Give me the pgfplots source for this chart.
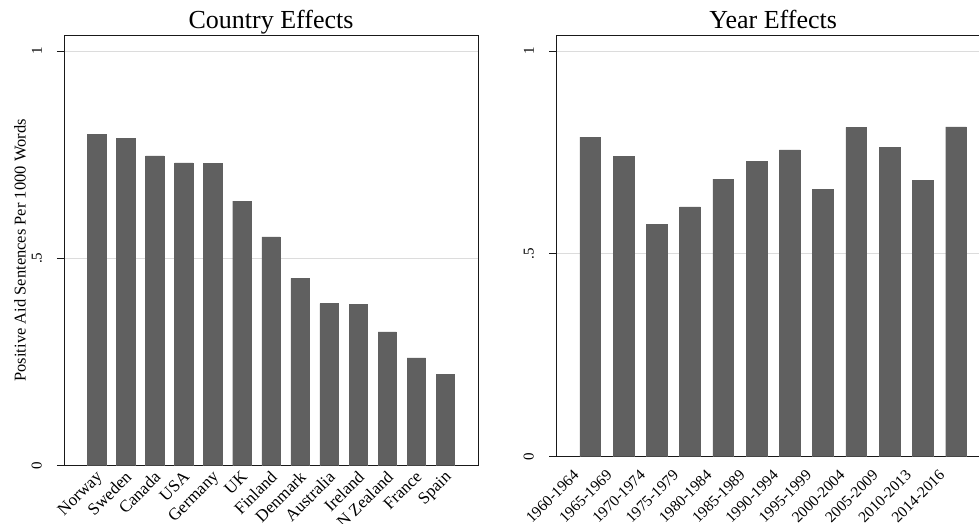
\documentclass[border=0pt]{standalone}
\usepackage{pgfplots}
\pgfplotsset{compat=1.18}
\usepackage{fontspec}
\setmainfont{Liberation Serif}
\definecolor{barc}{HTML}{606060}
\definecolor{gridc}{HTML}{DCDCDC}
\pgfplotsset{
  stata/.style={
    scale only axis,
    ymin=0,
    ytick={0,0.5,1},
    yticklabels={0,.5,1},
    ymajorgrids,
    grid style={gridc, line width=0.8pt},
    axis line style={line width=0.9pt, black!90},
    tick align=outside,
    major tick length=7pt,
    ytick style={line width=0.9pt, black!90},
    xtick style={draw=none},
    xtick pos=bottom,
    ytick pos=left,
    /pgf/number format/assume math mode=true,
    yticklabel style={font=\fontsize{15}{15}\selectfont, xshift=-15pt, rotate=90, anchor=south, inner sep=0pt},
    title style={font=\fontsize{26}{26}\selectfont, anchor=base, yshift=1pt, inner sep=0pt},
  }
}
\begin{document}
\begin{tikzpicture}[x=1pt,y=1pt]
\useasboundingbox (0,0) rectangle (979,-523);
\begin{axis}[stata,
  at={(64pt,-465.7pt)}, anchor=south west,
  width=414pt, height=430.7pt,
  xmin=-1.12, xmax=13.12, ymax=1.0386,
  xtick={0,1,2,3,4,5,6,7,8,9,10,11,12},
  xticklabels={Norway,Sweden,Canada,USA,Germany,UK,Finland,Denmark,Australia,Ireland,N Zealand,France,Spain},
  xticklabel style={font=\fontsize{17}{17}\selectfont, xshift=-1.5pt, yshift=3pt, rotate=45, anchor=north east, inner sep=0pt},
  title={Country Effects},
  title style={at={(0.5,1)}},
  ylabel={Positive Aid Sentences Per 1000 Words},
  every axis y label/.style={at={(axis description cs:-0.106,0.5)}, rotate=90, anchor=center, font=\fontsize{16.5}{16.5}\selectfont},
]
\addplot[ybar, bar width=18.4pt, fill=barc, draw=barc] coordinates {
(0,0.799) (1,0.789) (2,0.747) (3,0.730) (4,0.729) (5,0.638) (6,0.552)
(7,0.452) (8,0.391) (9,0.389) (10,0.323) (11,0.260) (12,0.220)};
\end{axis}
\begin{axis}[stata,
  at={(556pt,-456.7pt)}, anchor=south west,
  width=423pt, height=421.7pt,
  xmin=-1.03, xmax=11.69, ymax=1.0394,
  axis x line*=box, axis y line*=left,
  xtick={0,1,2,3,4,5,6,7,8,9,10,11},
  xticklabels={1960-1964,1965-1969,1970-1974,1975-1979,1980-1984,1985-1989,1990-1994,1995-1999,2000-2004,2005-2009,2010-2013,2014-2016},
  xticklabel style={font=\fontsize{15.5}{15.5}\selectfont, xshift=-18pt, yshift=-5pt, rotate=45, anchor=north east, inner sep=0pt},
  title={Year Effects},
  title style={at={(0.5134,1)}},
]
\addplot[ybar, bar width=20.7pt, fill=barc, draw=barc] coordinates {
(0,0.788) (1,0.740) (2,0.573) (3,0.616) (4,0.684) (5,0.728) (6,0.756)
(7,0.659) (8,0.812) (9,0.763) (10,0.682) (11,0.813)};
\end{axis}
\end{tikzpicture}
\end{document}
